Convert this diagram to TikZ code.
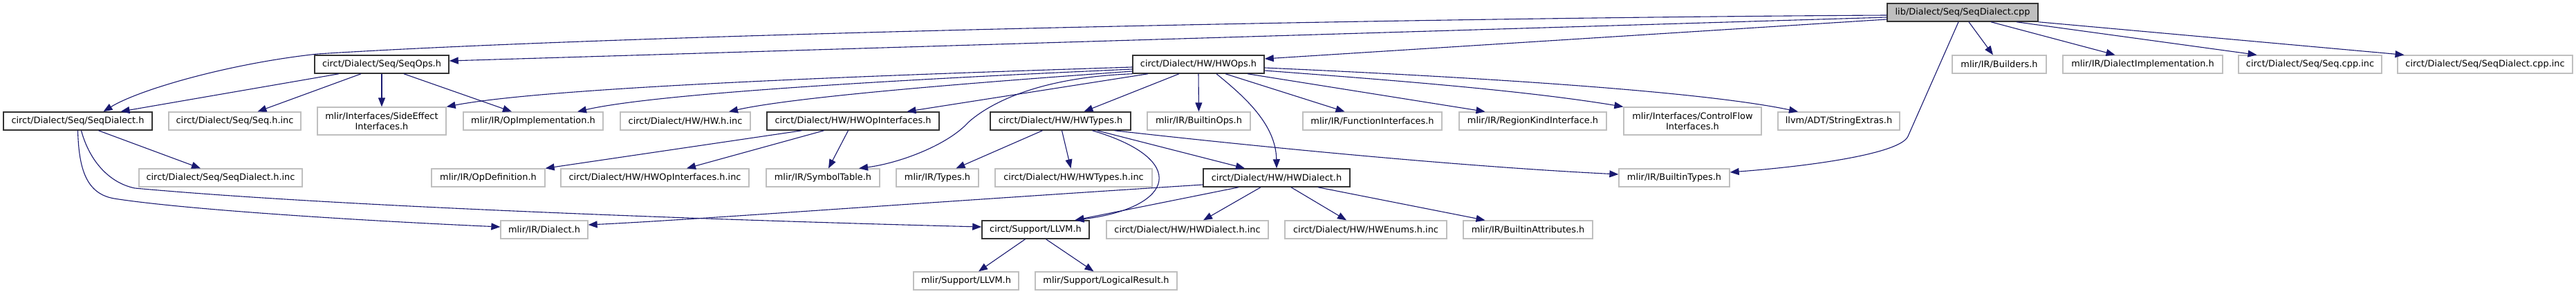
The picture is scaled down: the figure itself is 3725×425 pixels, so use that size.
\documentclass[tikz,border=0pt]{standalone}
\usepackage{fontspec}
\setmainfont{DejaVu Sans}
\usetikzlibrary{arrows.meta}
\definecolor{edgeblue}{HTML}{191970}
\definecolor{greyline}{HTML}{BFBFBF}
\definecolor{docline}{HTML}{333333}
\begin{document}
\begin{tikzpicture}[x=1pt,y=-1pt,
  every node/.style={font=\fontsize{12.9}{15}\selectfont, inner sep=0pt, minimum height=26pt, align=center},
  docbox/.style={draw=docline, line width=1.5pt, fill=white},
  extbox/.style={draw=greyline, line width=1.3pt, fill=white},
  rootbox/.style={draw=docline, line width=1.5pt, fill=greyline},
  dep/.style={draw=edgeblue, line width=1.1pt, -{Triangle[length=13pt,width=10pt]}}]
\useasboundingbox (0,0) rectangle (3725,425);

% row 0
\node[rootbox, minimum width=218pt] (root) at (2838,18) {lib/Dialect/Seq/SeqDialect.cpp};
% row 1
\node[docbox, minimum width=194pt] (seqops) at (552,93) {circt/Dialect/Seq/SeqOps.h};
\node[docbox, minimum width=190pt] (hwops) at (1733,93) {circt/Dialect/HW/HWOps.h};
\node[extbox, minimum width=136pt] (builders) at (2891,93) {mlir/IR/Builders.h};
\node[extbox, minimum width=231pt] (dialimpl) at (3098.5,93) {mlir/IR/DialectImplementation.h};
\node[extbox, minimum width=207pt] (seqcppinc) at (3340.5,93) {circt/Dialect/Seq/Seq.cpp.inc};
\node[extbox, minimum width=253pt] (seqdialcppinc) at (3593.5,93) {circt/Dialect/Seq/SeqDialect.cpp.inc};
% row 2
\node[docbox, minimum width=215pt] (seqdialect) at (112.5,175) {circt/Dialect/Seq/SeqDialect.h};
\node[extbox, minimum width=191pt] (seqhinc) at (339.5,175) {circt/Dialect/Seq/Seq.h.inc};
\node[extbox, minimum width=186pt, minimum height=40pt] (sideeffect) at (552,175) {mlir/Interfaces/SideEffect\\Interfaces.h};
\node[extbox, minimum width=202pt] (opimpl) at (771,175) {mlir/IR/OpImplementation.h};
\node[extbox, minimum width=188pt] (hwhinc) at (991,175) {circt/Dialect/HW/HW.h.inc};
\node[docbox, minimum width=249pt] (hwopif) at (1233.5,175) {circt/Dialect/HW/HWOpInterfaces.h};
\node[docbox, minimum width=203pt] (hwtypes) at (1533.5,175) {circt/Dialect/HW/HWTypes.h};
\node[extbox, minimum width=149pt] (builtinops) at (1733.5,175) {mlir/IR/BuiltinOps.h};
\node[extbox, minimum width=201pt] (funcif) at (1984.5,175) {mlir/IR/FunctionInterfaces.h};
\node[extbox, minimum width=213pt] (regionkind) at (2216.5,175) {mlir/IR/RegionKindInterface.h};
\node[extbox, minimum width=199pt, minimum height=40pt] (controlflow) at (2447.5,175) {mlir/Interfaces/ControlFlow\\Interfaces.h};
\node[extbox, minimum width=176pt] (stringextras) at (2659,175) {llvm/ADT/StringExtras.h};
% row 3
\node[extbox, minimum width=236pt] (seqdialhinc) at (319,257) {circt/Dialect/Seq/SeqDialect.h.inc};
\node[extbox, minimum width=164pt] (opdef) at (706,257) {mlir/IR/OpDefinition.h};
\node[extbox, minimum width=272pt] (hwopifinc) at (947,257) {circt/Dialect/HW/HWOpInterfaces.h.inc};
\node[extbox, minimum width=164pt] (symboltable) at (1190,257) {mlir/IR/SymbolTable.h};
\node[extbox, minimum width=119pt] (types) at (1355.5,257) {mlir/IR/Types.h};
\node[extbox, minimum width=227pt] (hwtypesinc) at (1552.5,257) {circt/Dialect/HW/HWTypes.h.inc};
\node[docbox, minimum width=212pt] (hwdialect) at (1846,257) {circt/Dialect/HW/HWDialect.h};
\node[extbox, minimum width=160pt] (builtintypes) at (2421,257) {mlir/IR/BuiltinTypes.h};
% row 4
\node[extbox, minimum width=126pt] (dialect) at (787,332) {mlir/IR/Dialect.h};
\node[docbox, minimum width=155pt] (llvm) at (1497.5,332) {circt/Support/LLVM.h};
\node[extbox, minimum width=234pt] (hwdialinc) at (1717,332) {circt/Dialect/HW/HWDialect.h.inc};
\node[extbox, minimum width=234pt] (hwenums) at (1975,332) {circt/Dialect/HW/HWEnums.h.inc};
\node[extbox, minimum width=187pt] (builtinattr) at (2209.5,332) {mlir/IR/BuiltinAttributes.h};
% row 5
\node[extbox, minimum width=152pt] (mlirllvm) at (1397,406) {mlir/Support/LLVM.h};
\node[extbox, minimum width=205pt] (logicalresult) at (1599.5,406) {mlir/Support/LogicalResult.h};

% root edges
\draw[dep] ([yshift=-4pt]root.west) .. controls (2000,26) and (900,50) .. (459,78) .. controls (330,92) and (200,130) .. ([xshift=37pt]seqdialect.north);
\draw[dep] ([yshift=-7pt]root.west) -- ([yshift=5pt]seqops.east);
\draw[dep] ([yshift=-10pt]root.west) -- ([yshift=8pt]hwops.east);
\draw[dep] ([xshift=-6pt]root.south) -- (2759,197) .. controls (2748,222) and (2620,240) .. ([yshift=8pt]builtintypes.east);
\draw[dep] ([xshift=9pt]root.south) -- ([xshift=-9pt]builders.north);
\draw[dep] ([xshift=41pt]root.south) -- ([xshift=-40pt]dialimpl.north);
\draw[dep] ([xshift=78pt]root.south) -- ([xshift=-77pt]seqcppinc.north);
\draw[dep] (root.south east) -- ([xshift=-117pt]seqdialcppinc.north);

% SeqOps.h
\draw[dep] ([xshift=-62pt]seqops.south) -- ([xshift=62pt]seqdialect.north);
\draw[dep] ([xshift=-30pt]seqops.south) -- ([xshift=33pt]seqhinc.north);
\draw[dep] (seqops.south) -- (sideeffect.north);
\draw[dep] ([xshift=32pt]seqops.south) -- ([xshift=-31pt]opimpl.north);

% SeqDialect.h
\draw[dep] ([xshift=30pt]seqdialect.south) -- ([xshift=-29pt]seqdialhinc.north);
\draw[dep] (seqdialect.south) .. controls (114,245) and (125,280) .. (165,287) .. controls (260,302) and (500,318) .. ([yshift=4pt]dialect.west);
\draw[dep] ([xshift=5pt]seqdialect.south) .. controls (130,235) and (160,265) .. (195,272) .. controls (500,300) and (1100,320) .. ([yshift=4pt]llvm.west);

% HWOps.h
\draw[dep] ([yshift=-4pt]hwops.west) .. controls (1300,108) and (800,125) .. (sideeffect.north east);
\draw[dep] ([yshift=-7pt]hwops.west) .. controls (1300,115) and (950,135) .. ([xshift=64pt]opimpl.north);
\draw[dep] ([yshift=-10pt]hwops.west) .. controls (1400,120) and (1150,140) .. ([xshift=63pt]hwhinc.north);
\draw[dep] ([xshift=-73pt]hwops.south) -- ([xshift=78pt]hwopif.north);
\draw[dep] (hwops.south west) .. controls (1500,112) and (1430,150) .. (1400,177) .. controls (1370,210) and (1300,236) .. ([xshift=52pt]symboltable.north);
\draw[dep] ([xshift=-28pt]hwops.south) -- ([xshift=34pt]hwtypes.north);
\draw[dep] (hwops.south) -- (builtinops.north);
\draw[dep] ([xshift=26pt]hwops.south) .. controls (1800,140) and (1845,180) .. (hwdialect.north);
\draw[dep] ([xshift=39pt]hwops.south) -- ([xshift=-40pt]funcif.north);
\draw[dep] ([xshift=71pt]hwops.south) -- ([xshift=-69pt]regionkind.north);
\draw[dep] ([yshift=-9pt]hwops.east) .. controls (2000,115) and (2200,130) .. (controlflow.north west);
\draw[dep] ([yshift=-5pt]hwops.east) .. controls (2100,110) and (2450,130) .. ([xshift=-59pt]stringextras.north);

% HWOpInterfaces.h
\draw[dep] ([xshift=-74pt]hwopif.south) -- (opdef.north east);
\draw[dep] ([xshift=-42pt]hwopif.south) -- ([xshift=46pt]hwopifinc.north);
\draw[dep] ([xshift=-7pt]hwopif.south) -- ([xshift=8pt]symboltable.north);

% HWTypes.h
\draw[dep] ([xshift=-26pt]hwtypes.south) -- ([xshift=27pt]types.north);
\draw[dep] ([xshift=2pt]hwtypes.south) -- ([xshift=-4pt]hwtypesinc.north);
\draw[dep] ([xshift=46pt]hwtypes.south) .. controls (1720,230) and (1700,300) .. ([xshift=57pt]llvm.north);
\draw[dep] ([xshift=53pt]hwtypes.south) -- ([xshift=-46pt]hwdialect.north);
\draw[dep] ([xshift=78pt]hwtypes.south) .. controls (1800,210) and (2100,240) .. ([yshift=5pt]builtintypes.west);

% HWDialect.h
\draw[dep] ([yshift=-10pt]hwdialect.west) .. controls (1300,295) and (1000,318) .. ([yshift=7pt]dialect.east);
\draw[dep] ([xshift=-55pt]hwdialect.south) -- ([xshift=57pt]llvm.north);
\draw[dep] ([xshift=-23pt]hwdialect.south) -- ([xshift=23pt]hwdialinc.north);
\draw[dep] ([xshift=21pt]hwdialect.south) -- ([xshift=-28pt]hwenums.north);
\draw[dep] ([xshift=60pt]hwdialect.south) -- ([xshift=-62pt]builtinattr.north);

% circt/Support/LLVM.h
\draw[dep] ([xshift=-15pt]llvm.south) -- ([xshift=18pt]mlirllvm.north);
\draw[dep] ([xshift=15pt]llvm.south) -- ([xshift=-18pt]logicalresult.north);
\end{tikzpicture}
\end{document}
